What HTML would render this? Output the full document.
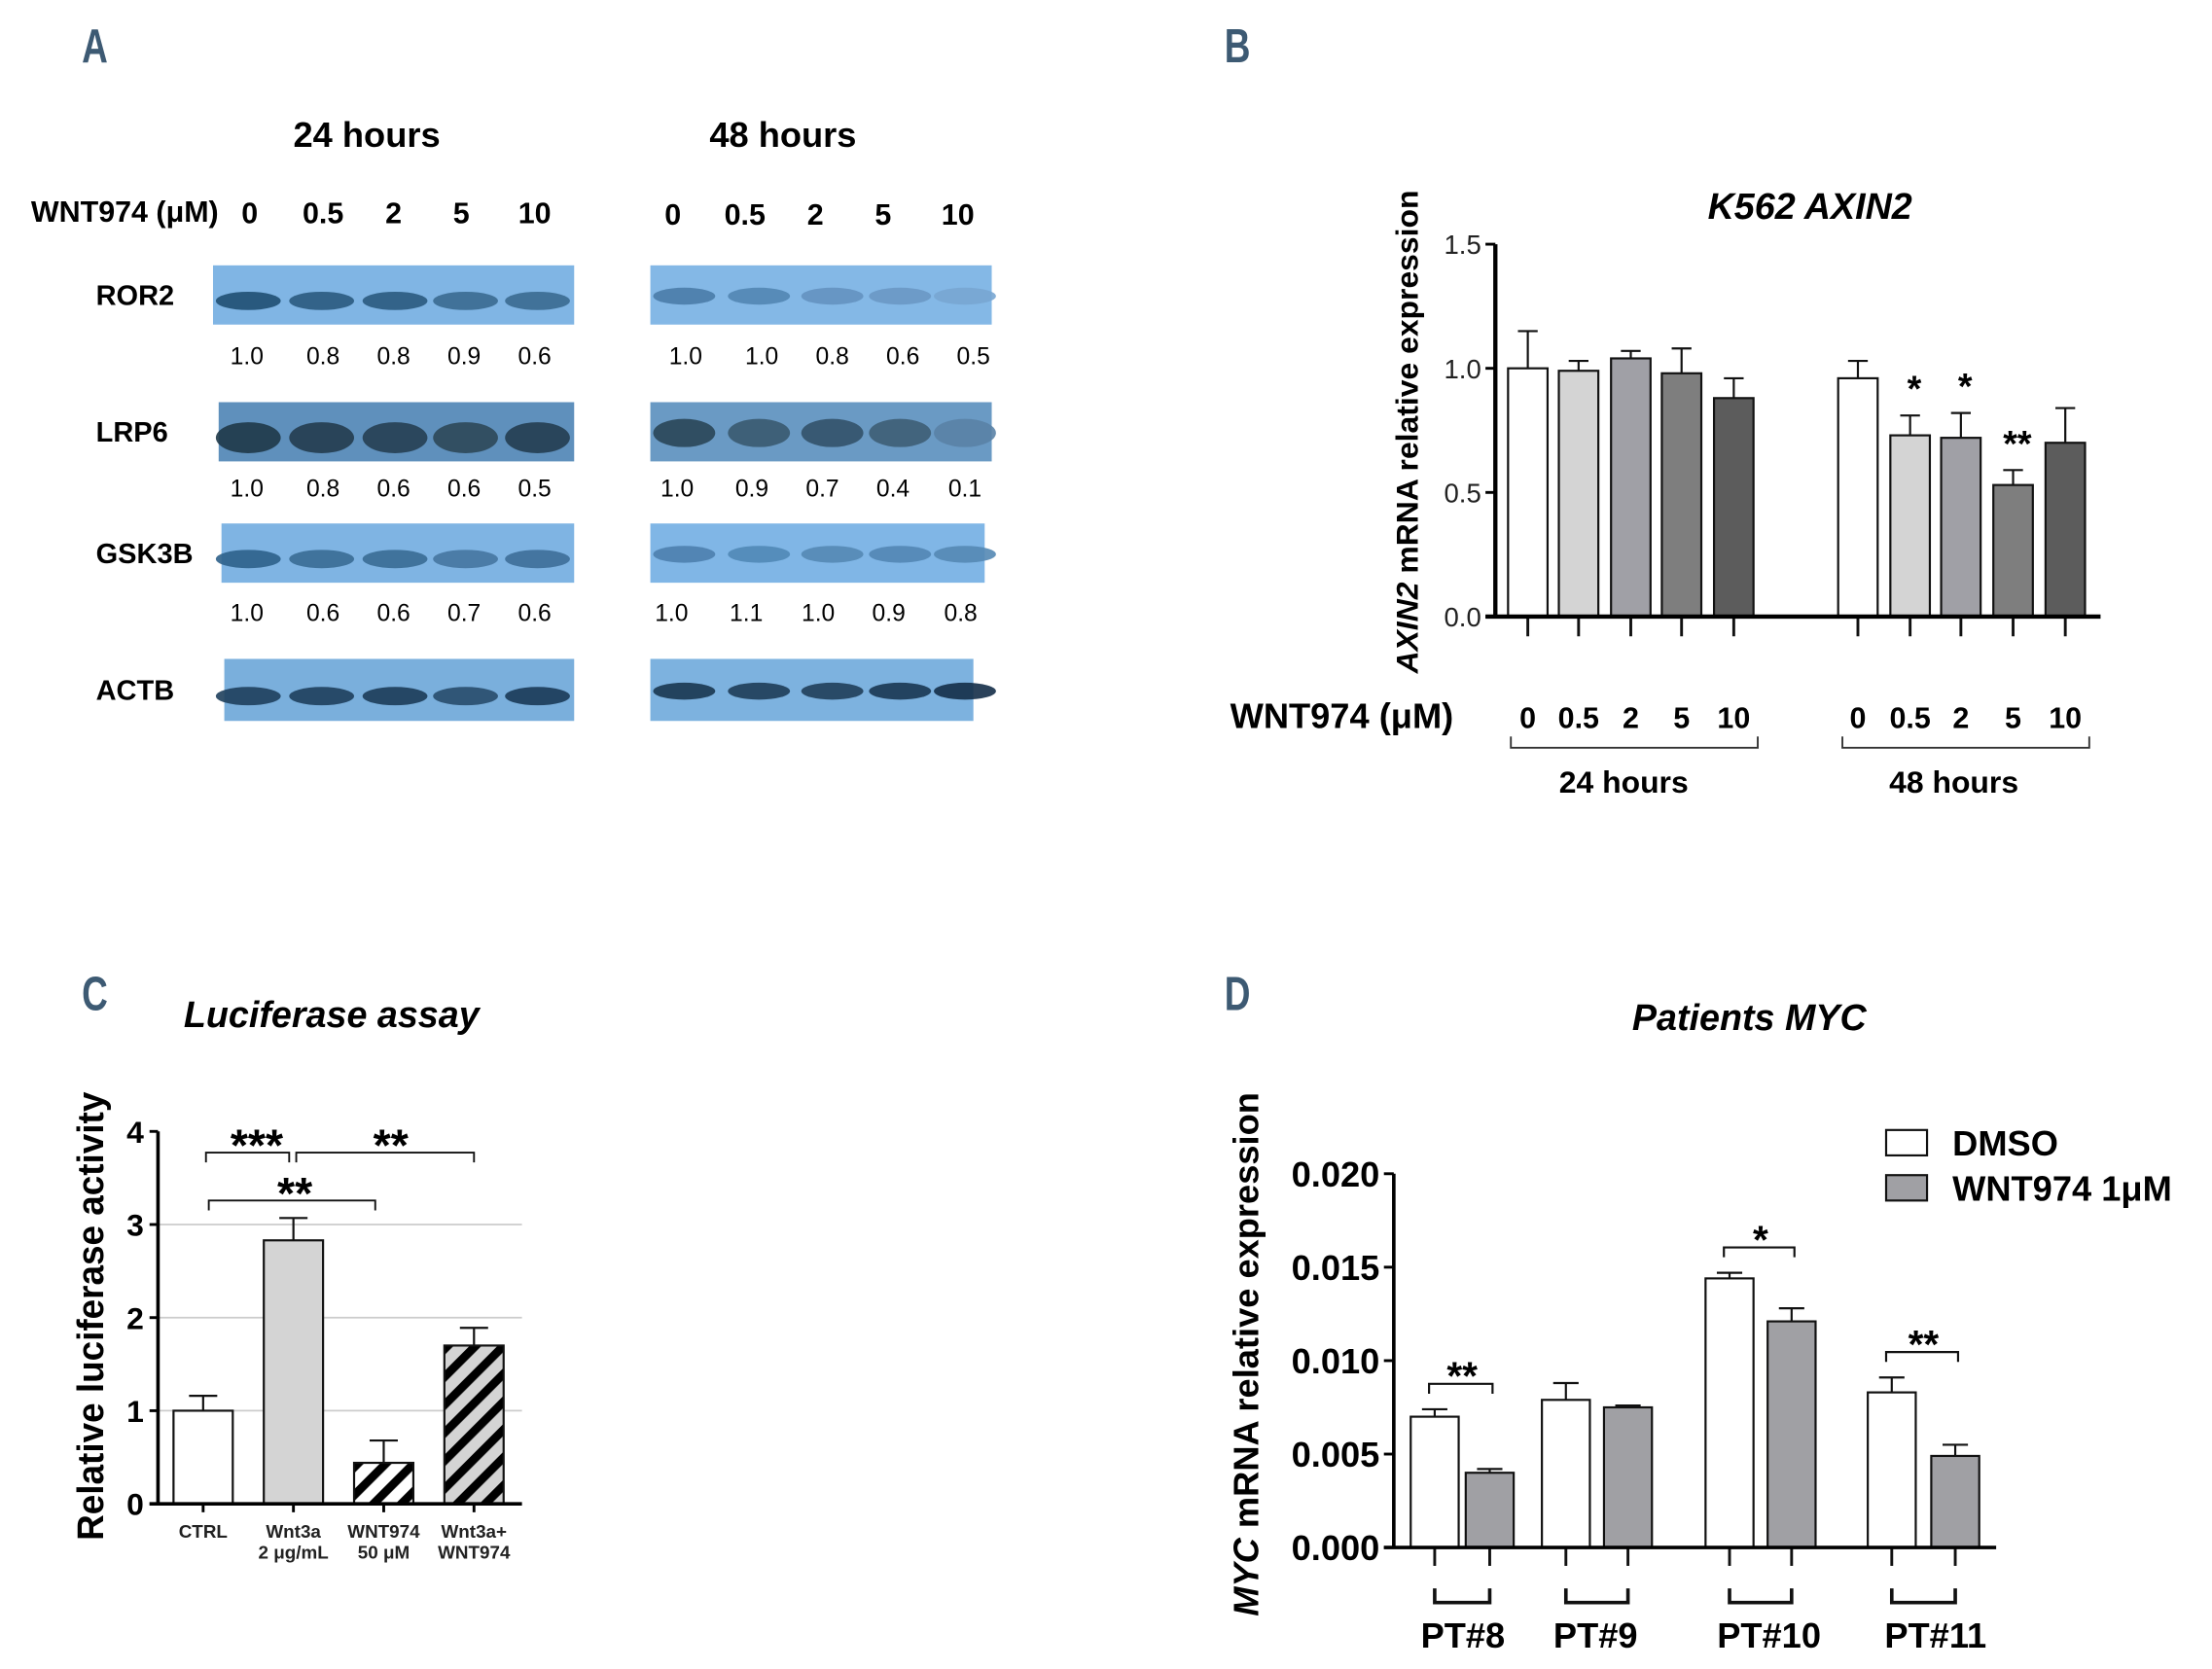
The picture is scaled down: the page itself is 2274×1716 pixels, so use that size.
<!DOCTYPE html>
<html><head><meta charset="utf-8">
<style>
html,body{margin:0;padding:0;background:#fff;}
svg{display:block;}
text{font-family:"Liberation Sans Narrow","Liberation Sans",sans-serif;}
.b{font-weight:bold;}
</style></head>
<body>
<svg id="fig" width="2274" height="1716" viewBox="0 0 1568 1183" xmlns="http://www.w3.org/2000/svg">
<g id="pa"></g>
<g id="pb"></g>
<g id="pc"></g>
<g id="pd"></g>
</svg>
<script>
// ---- Panel A data ----
const doses = ["0","0.5","2","5","10"];
const proteins = ["ROR2","LRP6","GSK3B","ACTB"];
const quant24 = [["1.0","0.8","0.8","0.9","0.6"],["1.0","0.8","0.6","0.6","0.5"],["1.0","0.6","0.6","0.7","0.6"]];
const quant48 = [["1.0","1.0","0.8","0.6","0.5"],["1.0","0.9","0.7","0.4","0.1"],["1.0","1.1","1.0","0.9","0.8"]];
// ---- Panel B data ----
const bDoses = ["0","0.5","2","5","10"];
const axin24 = [1.0,0.99,1.04,0.98,0.88];
const axin24err = [0.15,0.04,0.03,0.10,0.08];
const axin48 = [0.96,0.73,0.72,0.53,0.70];
const axin48err = [0.07,0.08,0.10,0.06,0.14];
const axin48sig = ["","*","*","**",""];
const bTicks = ["0.0","0.5","1.0","1.5"];
// ---- Panel C data ----
const lucCats = ["CTRL","Wnt3a|2 μg/mL","WNT974|50 μM","Wnt3a+|WNT974"];
const lucVals = [1.0,2.83,0.44,1.70];
const lucErr = [0.16,0.24,0.24,0.19];
const cTicks = [0,1,2,3,4];
// ---- Panel D data ----
const patients = ["PT#8","PT#9","PT#10","PT#11"];
const dmso = [0.0070,0.0079,0.0144,0.0083];
const dmsoErr = [0.0004,0.0009,0.0003,0.0008];
const wnt = [0.0040,0.0075,0.0121,0.0049];
const wntErr = [0.0002,0.0001,0.0007,0.0006];
const dSig = ["**","","*","**"];
const dTicks = [0,0.005,0.010,0.015,0.020];

const NS="http://www.w3.org/2000/svg";
function mk(p,tag,at,txt){const e=document.createElementNS(NS,tag);for(const k in at)e.setAttribute(k,at[k]);if(txt!==undefined)e.textContent=txt;p.appendChild(e);return e;}

// panel letters
[["A",58,44],["B",868,44],["C",58,716],["D",868,716]].forEach(l=>{
  const t=mk(document.getElementById('fig'),'text',{x:l[1],y:l[2],'font-size':34,fill:'#3d5a73','class':'b','transform':`translate(${l[1]},${l[2]}) scale(0.75,1) translate(${-l[1]},${-l[2]})`},l[0]);
  
  
});

// ===== Panel A =====
(function(){
const g=document.getElementById('pa');
let t=mk(g,'text',{x:260,y:104,'font-size':25,'class':'b','text-anchor':'middle'},'24 hours');

t=mk(g,'text',{x:555,y:104,'font-size':25,'class':'b','text-anchor':'middle'},'48 hours');

t=mk(g,'text',{x:22,y:157,'font-size':21,'class':'b'},'WNT974 (μM)');

const l24=[177,229,279,327,379], l48=[477,528,578,626,679];
doses.forEach((d,i)=>{
  let a=mk(g,'text',{x:l24[i],y:158,'font-size':21,'class':'b','text-anchor':'middle'},d);
  
  a=mk(g,'text',{x:l48[i],y:159,'font-size':21,'class':'b','text-anchor':'middle'},d);
  
});
const rows=[{y:188,h:42,x1:151,w1:256,x2:461,w2:242,bg:'#80b5e4',bg2:'#84b8e6'},
            {y:285,h:42,x1:155,w1:252,x2:461,w2:242,bg:'#5f90bc',bg2:'#6a9ac4'},
            {y:371,h:42,x1:157,w1:250,x2:461,w2:237,bg:'#7fb4e3',bg2:'#80b6e6'},
            {y:467,h:44,x1:159,w1:248,x2:461,w2:229,bg:'#7aafdc',bg2:'#7db2df'}];
const bc24=[176,228,280,330,381], bc48=[485,538,590,638,684];
const band=[['#1f4f72','#2a5a7e','#2a5a7e','#3a6a90','#3a6a90'],['#1f3848','#233c4e','#263f52','#2d4858','#243d50'],
            ['#2e608a','#3a6c94','#3a6c94','#4676a0','#3e6e98'],['#1e3f5c','#1e3f5c','#1c3c58','#284c6c','#1a3a56']];
const band2=[['#4a7ca8','#5286b2','#6492c0','#6a98c4','#78a6d2'],['#2a4658','#3a5a70','#33526a','#3e5e76','#5a82a6'],
             ['#4c80ae','#5088b6','#5488b4','#5286b4','#5488b4'],['#1a3650','#1e3c58','#203e5a','#1a3652','#142e48']];
proteins.forEach((p,r)=>{
  const R=rows[r];
  let lab=mk(g,'text',{x:68,y:R.y+R.h/2+7,'font-size':20,'class':'b'},p);
  
  let rc=mk(g,'rect',{x:R.x1,y:R.y,width:R.w1,height:R.h,fill:R.bg});
  
  rc=mk(g,'rect',{x:R.x2,y:R.y,width:R.w2,height:R.h,fill:R.bg2});
  
  for(let i=0;i<5;i++){
    const by=R.y+R.h*0.6;
    let e=mk(g,'ellipse',{cx:bc24[i],cy:by,rx:23,ry:r==1?11:6.5,fill:band[r][i],opacity:0.9});
    
    e=mk(g,'ellipse',{cx:bc48[i],cy:R.y+R.h*0.52,rx:22,ry:r==1?10:6,fill:band2[r][i],opacity:0.9});
    
  }
  if(r<3){
    const qy=[258,352,440][r];
    const q48x=[[486,540,590,640,690],[480,533,583,633,684],[476,529,580,630,681]][r];
    quant24[r].forEach((v,i)=>{let q=mk(g,'text',{x:[175,229,279,329,379][i],y:qy,'font-size':17,'text-anchor':'middle'},v);
      });
    quant48[r].forEach((v,i)=>{let q=mk(g,'text',{x:q48x[i],y:qy,'font-size':17,'text-anchor':'middle'},v);
      });
  }
});
})();

// ===== Panel B =====
(function(){
const g=document.getElementById('pb');
const X0=1060,Y0=437,K=176;
const y=v=>Y0-v*K;
let t=mk(g,'text',{x:1283,y:155,'font-size':26,'class':'b','font-style':'italic','text-anchor':'middle'},'K562 AXIN2');

t=mk(g,'text',{transform:'translate(1005,306) rotate(-90)','font-size':22,'class':'b','text-anchor':'middle'});

mk(t,'tspan',{'font-style':'italic'},'AXIN2');mk(t,'tspan',{},' mRNA relative expression');
bTicks.forEach(s=>{const v=parseFloat(s);
  let l=mk(g,'line',{x1:X0-7,x2:X0,y1:y(v),y2:y(v),stroke:'#000','stroke-width':2});
  
  let tx=mk(g,'text',{x:X0-10,y:y(v)+7,'font-size':19,'text-anchor':'end',fill:'#222'},s);
  });
const cols=['#ffffff','#d4d4d4','#a0a0a6','#7e7e7e','#5c5c5c'];
const c24=[1083,1119,1156,1192,1229], c48=[1317,1354,1390,1427,1464];
function draw(vals,errs,cs,grp,sig){
  vals.forEach((v,i)=>{const cx=cs[i];
    let e=mk(g,'line',{x1:cx,x2:cx,y1:y(v),y2:y(v+errs[i]),stroke:'#111','stroke-width':1.5});
    
    e=mk(g,'line',{x1:cx-7,x2:cx+7,y1:y(v+errs[i]),y2:y(v+errs[i]),stroke:'#111','stroke-width':1.5});
    
    let b=mk(g,'rect',{x:cx-14,y:y(v),width:28,height:v*K,fill:cols[i],stroke:'#111','stroke-width':1.5});
    
    let tk=mk(g,'line',{x1:cx,x2:cx,y1:Y0,y2:Y0+14,stroke:'#111','stroke-width':2});
    
    let dl=mk(g,'text',{x:cx,y:516,'font-size':21,'class':'b','text-anchor':'middle'},bDoses[i]);
    
    if(sig&&sig[i]){let s=mk(g,'text',{x:cx+3,y:y(v+errs[i])-10,'font-size':26,'class':'b','text-anchor':'middle'},sig[i]);
      }
  });
}
draw(axin24,axin24err,c24,'24h',null);
draw(axin48,axin48err,c48,'48h',axin48sig);
let ax=mk(g,'line',{x1:X0,x2:X0,y1:Y0+1,y2:y(1.5),stroke:'#000','stroke-width':3});

ax=mk(g,'line',{x1:X0-7,x2:1489,y1:Y0,y2:Y0,stroke:'#000','stroke-width':3});

t=mk(g,'text',{x:872,y:516,'font-size':25,'class':'b'},'WNT974 (μM)');

[[1071,1246,'24 hours',1151],[1306,1481,'48 hours',1385]].forEach(a=>{
  let p=mk(g,'path',{d:`M${a[0]},522 V530 H${a[1]} V522`,fill:'none',stroke:'#333','stroke-width':1.3});
  
  let tt=mk(g,'text',{x:a[3],y:562,'font-size':22,'class':'b','text-anchor':'middle'},a[2]);
  
});
})();

// ===== Panel C =====
(function(){
const g=document.getElementById('pc');
const X0=112,Y0=1066,K=66;
const y=v=>Y0-v*K;
const defs=mk(g,'defs',{});
const pat=mk(defs,'pattern',{id:'hatchW',width:14,height:14,patternUnits:'userSpaceOnUse',patternTransform:'rotate(45)'});
mk(pat,'rect',{width:14,height:14,fill:'#fff'});mk(pat,'rect',{width:6,height:14,fill:'#000'});
const pat2=mk(defs,'pattern',{id:'hatchG',width:14,height:14,patternUnits:'userSpaceOnUse',patternTransform:'rotate(45)'});
mk(pat2,'rect',{width:14,height:14,fill:'#d4d4d4'});mk(pat2,'rect',{width:6,height:14,fill:'#000'});
let t=mk(g,'text',{x:235,y:728,'font-size':26,'class':'b','font-style':'italic','text-anchor':'middle'},'Luciferase assay');
t.setAttribute('font-family','Liberation Sans, sans-serif');

t=mk(g,'text',{transform:'translate(73,933) rotate(-90)','font-size':26,'font-weight':'bold','text-anchor':'middle','font-family':'Liberation Sans, sans-serif',textLength:318,lengthAdjust:'spacingAndGlyphs'},'Relative luciferase activity');

cTicks.forEach(v=>{
  if(v>0&&v<4){let gl=mk(g,'line',{x1:X0,x2:370,y1:y(v),y2:y(v),stroke:'#ccc','stroke-width':1.2});
    }
  let l=mk(g,'line',{x1:X0-6,x2:X0,y1:y(v),y2:y(v),stroke:'#000','stroke-width':2});
  
  let tx=mk(g,'text',{x:X0-10,y:y(v)+8,'font-size':22,'font-weight':'bold','text-anchor':'end','font-family':'Liberation Sans, sans-serif'},String(v));
  
});
const cx=[144,208,272,336], fills=['#fff','#d4d4d4','url(#hatchW)','url(#hatchG)'];
lucVals.forEach((v,i)=>{
  let e=mk(g,'path',{d:`M${cx[i]},${y(v)} V${y(v+lucErr[i])} M${cx[i]-10},${y(v+lucErr[i])} H${cx[i]+10}`,stroke:'#111','stroke-width':1.5,fill:'none'});
  
  let b=mk(g,'rect',{x:cx[i]-21,y:y(v),width:42,height:v*K,fill:fills[i],stroke:'#111','stroke-width':1.5});
  
  let tk=mk(g,'line',{x1:cx[i],x2:cx[i],y1:Y0,y2:Y0+6,stroke:'#000','stroke-width':2});
  
  lucCats[i].split('|').forEach((s,j)=>{
    let tx=mk(g,'text',{x:cx[i],y:1090+j*15,'font-size':13,'font-weight':'bold','fill':'#222','text-anchor':'middle','font-family':'Liberation Sans, sans-serif'},s);
    
  });
});
let ax=mk(g,'line',{x1:X0,x2:X0,y1:Y0+1,y2:y(4),stroke:'#000','stroke-width':2.5});

ax=mk(g,'line',{x1:X0-6,x2:370,y1:Y0,y2:Y0,stroke:'#000','stroke-width':2.5});

[[146,205,824,'***',182],[210,336,824,'**',277],[148,266,858,'**',209]].forEach(a=>{
  let p=mk(g,'path',{d:`M${a[0]},${a[2]} V${a[2]-7} H${a[1]} V${a[2]}`,fill:'none',stroke:'#111','stroke-width':1.3});
  
  let s=mk(g,'text',{x:a[4],y:a[2]-1,'font-size':32,'font-weight':'bold','text-anchor':'middle','font-family':'Liberation Sans, sans-serif'},a[3]);
  
});
})();

// ===== Panel D =====
(function(){
const g=document.getElementById('pd');
const X0=988,Y0=1097,K=13250;
const y=v=>Y0-v*K;
let t=mk(g,'text',{x:1240,y:730,'font-size':26,'class':'b','font-style':'italic','text-anchor':'middle'},'Patients MYC');

t=mk(g,'text',{transform:'translate(892,960) rotate(-90)','font-size':25,'font-weight':'bold','text-anchor':'middle','font-family':'Liberation Sans, sans-serif'});

mk(t,'tspan',{'font-style':'italic'},'MYC');mk(t,'tspan',{},' mRNA relative expression');
dTicks.forEach(v=>{
  let l=mk(g,'line',{x1:X0-7,x2:X0,y1:y(v),y2:y(v),stroke:'#000','stroke-width':2});
  
  let tx=mk(g,'text',{x:X0-10,y:y(v)+9,'font-size':25,'class':'b','text-anchor':'end'},v.toFixed(3));
  
});
const cD=[1017,1110,1226,1341], cW=[1056,1154,1270,1386];
const lab=[1037,1131,1254,1372];
patients.forEach((p,i)=>{
  [[dmso[i],dmsoErr[i],cD[i],'#fff','dmso'],[wnt[i],wntErr[i],cW[i],'#a0a0a4','wnt974']].forEach(s=>{
    let e=mk(g,'path',{d:`M${s[2]},${y(s[0])} V${y(s[0]+s[1])} M${s[2]-9},${y(s[0]+s[1])} H${s[2]+9}`,stroke:'#111','stroke-width':1.5,fill:'none'});
    
    let b=mk(g,'rect',{x:s[2]-17,y:y(s[0]),width:34,height:s[0]*K,fill:s[3],stroke:'#111','stroke-width':1.5});
    
    let tk=mk(g,'line',{x1:s[2],x2:s[2],y1:Y0,y2:Y0+13,stroke:'#111','stroke-width':2});
    
  });
  let br=mk(g,'path',{d:`M${cD[i]},1126 V1136 H${cW[i]} V1126`,fill:'none',stroke:'#111','stroke-width':2.5});
  
  let tx=mk(g,'text',{x:lab[i],y:1168,'font-size':25,'class':'b','text-anchor':'middle'},p);
  
  if(dSig[i]){
    const top=Math.max(dmso[i]+dmsoErr[i],wnt[i]+wntErr[i]);
    const by=y(top)-18;
    let sb=mk(g,'path',{d:`M${cD[i]-4},${by+7} V${by} H${cW[i]+2} V${by+7}`,fill:'none',stroke:'#111','stroke-width':1.5});
    
    let st=mk(g,'text',{x:(cD[i]+cW[i])/2,y:by+4,'font-size':28,'class':'b','text-anchor':'middle'},dSig[i]);
    
  }
});
let ax=mk(g,'line',{x1:X0,x2:X0,y1:Y0+1,y2:y(0.02),stroke:'#000','stroke-width':2.5});

ax=mk(g,'line',{x1:X0-7,x2:1415,y1:Y0,y2:Y0,stroke:'#000','stroke-width':2.5});

[['DMSO','#fff',801,'legend-dmso'],['WNT974 1μM','#a0a0a4',833,'legend-wnt974']].forEach(l=>{
  let r=mk(g,'rect',{x:1337,y:l[2],width:29,height:18,fill:l[1],stroke:'#111','stroke-width':1.5});
  
  let tx=mk(g,'text',{x:1384,y:l[2]+18,'font-size':25,'class':'b'},l[0]);
  
});
})();
</script>
</body></html>
